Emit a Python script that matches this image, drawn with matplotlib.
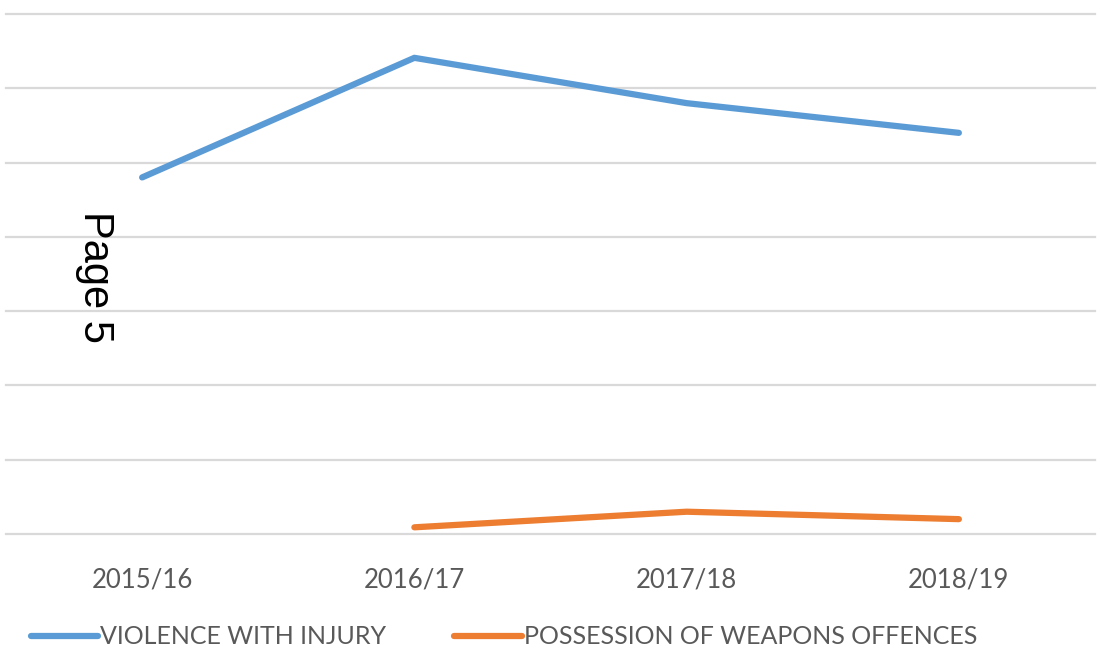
import matplotlib
matplotlib.use("Agg")
import matplotlib.pyplot as plt

years = ["2015/16", "2016/17", "2017/18", "2018/19"]
violence = [4.80, 6.41, 5.80, 5.40]
weapons_years = ["2016/17", "2017/18", "2018/19"]
weapons = [0.09, 0.30, 0.20]

label_font = "Lato"

fig = plt.figure(figsize=(11.01, 6.6), dpi=100)
ax = fig.add_axes([6 / 1101, 126 / 660, 1089 / 1101, 520 / 660])

xpos = {y: i for i, y in enumerate(years)}
l1, = ax.plot([xpos[y] for y in years], violence, color="#5B9BD5", lw=4.5,
              solid_capstyle="round", label="VIOLENCE WITH INJURY")
l2, = ax.plot([xpos[y] for y in weapons_years], weapons, color="#ED7D31", lw=4.5,
              solid_capstyle="round", label="POSSESSION OF WEAPONS OFFENCES")

ax.set_xlim(-0.5, 3.5)
ax.set_ylim(0, 7)
ax.set_yticks(range(0, 8))
ax.set_yticklabels([])
ax.tick_params(axis="y", length=0)
ax.grid(axis="y", color="#D9D9D9", lw=1.6)
for gl in ax.get_ygridlines():
    gl.set_clip_on(False)
ax.set_axisbelow(True)
for s in ax.spines.values():
    s.set_visible(False)

ax.set_xticks(range(len(years)))
ax.set_xticklabels(years, fontsize=18.5, color="#595959", family=label_font)
ax.tick_params(axis="x", length=0, pad=24)

fig.text(95 / 1101, 1 - 277 / 660, "Page 5", rotation=270, fontsize=30,
         family="Liberation Sans", ha="center", va="center")

leg = fig.legend(handles=[l1, l2], loc="center left", ncol=2,
                 bbox_to_anchor=(8 / 1101, 1 - 637 / 660), frameon=False,
                 prop={"family": label_font, "size": 18}, handlelength=2.7,
                 handletextpad=0.1, columnspacing=2.7)
for t in leg.get_texts():
    t.set_color("#595959")

fig.savefig("out.png", dpi=100)
